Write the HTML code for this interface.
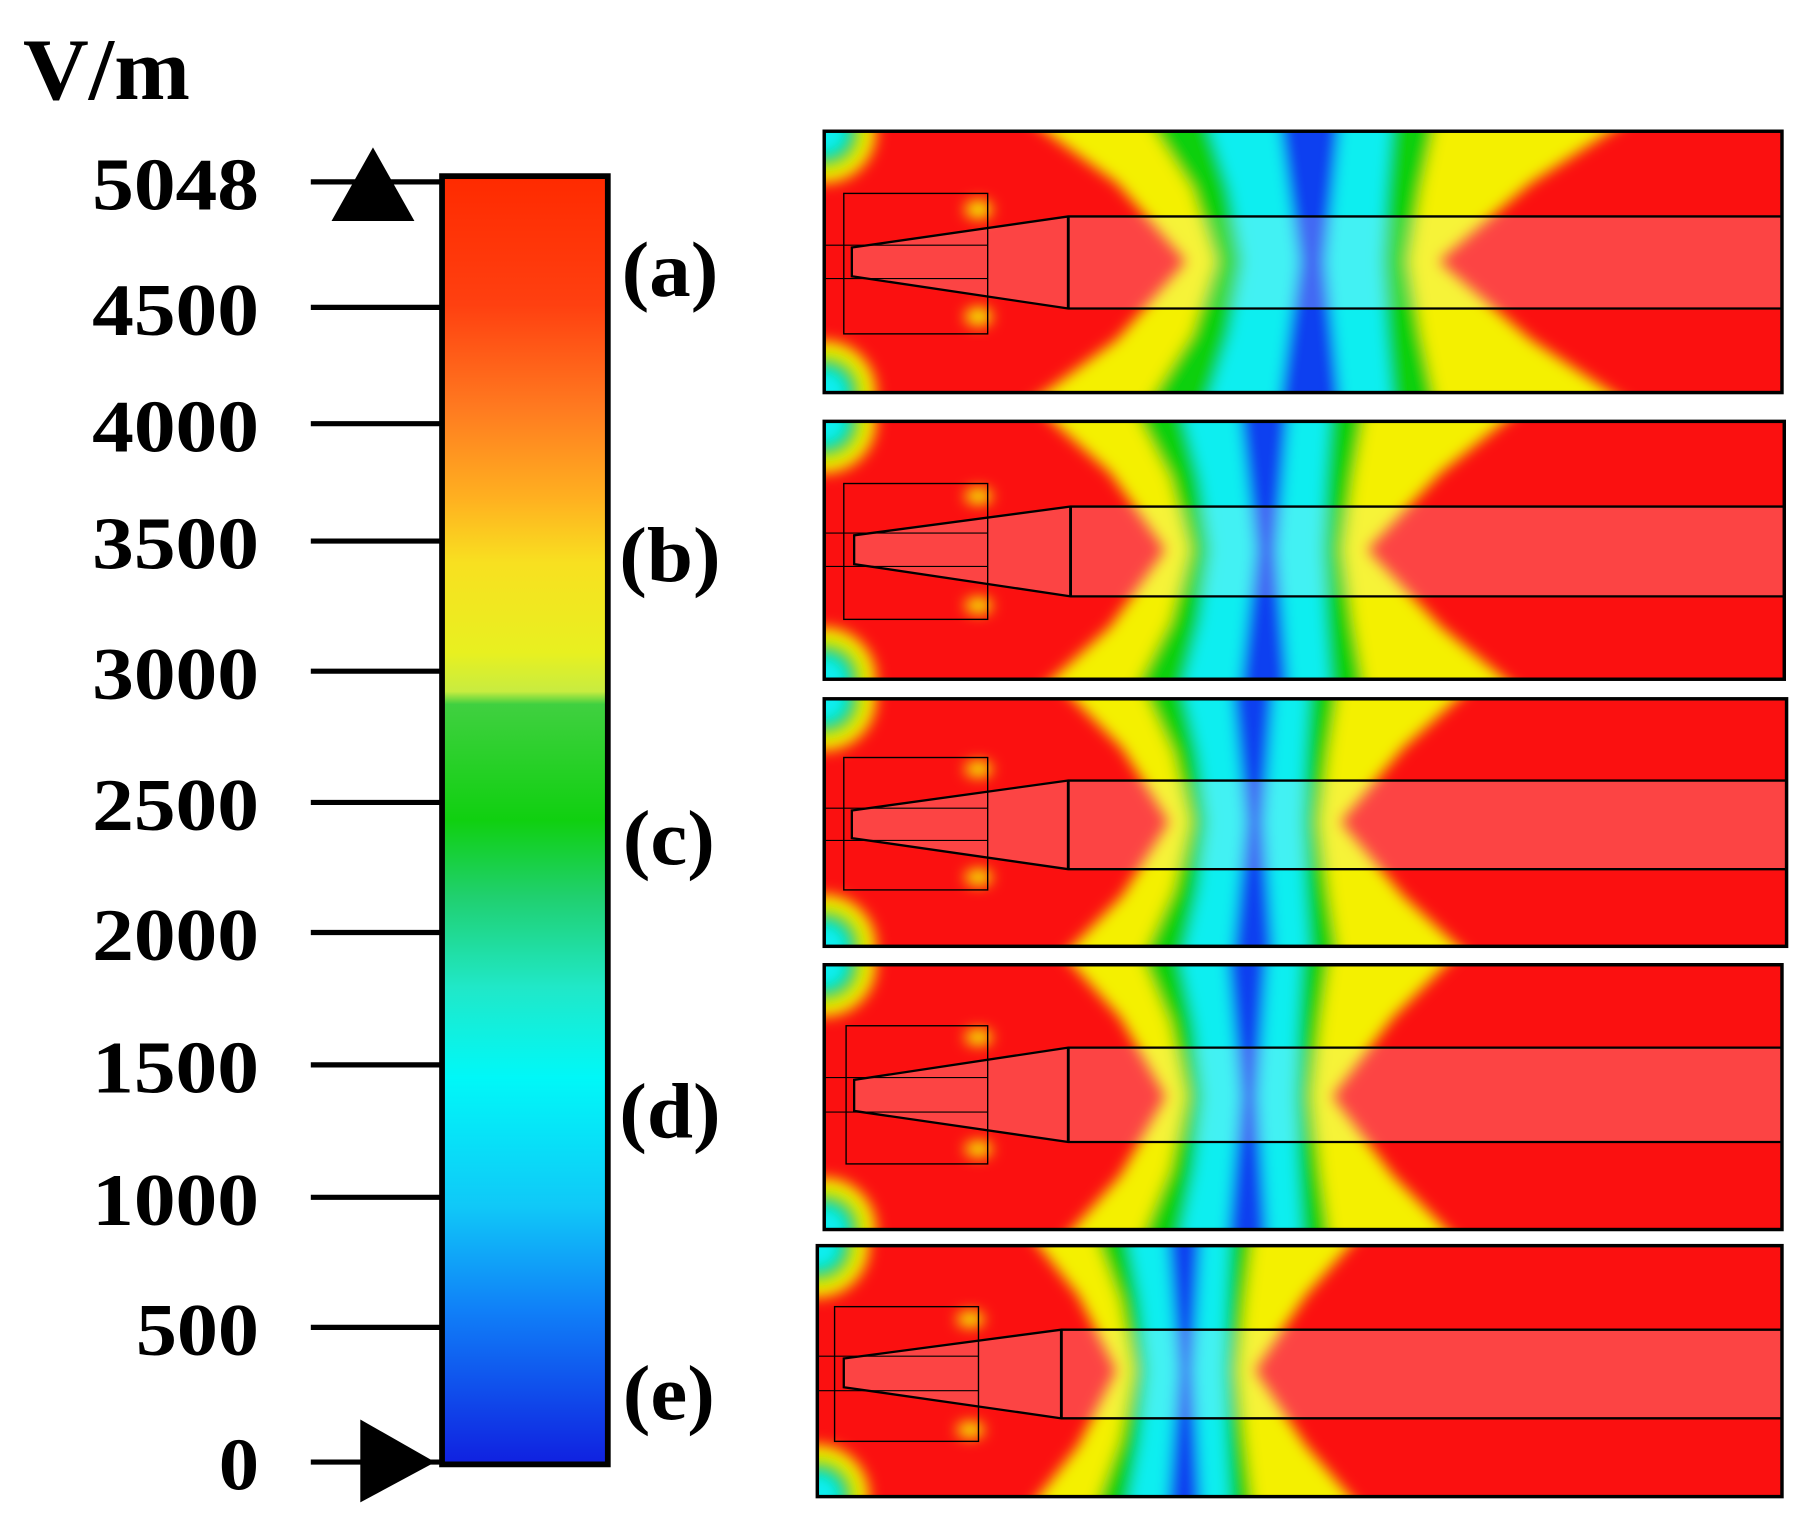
<!DOCTYPE html>
<html><head><meta charset="utf-8"><style>html,body{margin:0;padding:0;background:#fff}svg{display:block}</style></head>
<body>
<svg width="1805" height="1530" viewBox="0 0 1568 1329" xmlns="http://www.w3.org/2000/svg" preserveAspectRatio="none">
<defs>
<linearGradient id="cb" x1="0" y1="0" x2="0" y2="1">
<stop offset="0" stop-color="#ff2a00"/><stop offset="0.1" stop-color="#ff4010"/>
<stop offset="0.18" stop-color="#ff7a20"/><stop offset="0.25" stop-color="#ffb020"/>
<stop offset="0.3" stop-color="#f8e020"/><stop offset="0.37" stop-color="#e8f020"/>
<stop offset="0.4" stop-color="#c8ec40"/><stop offset="0.41" stop-color="#40d040"/>
<stop offset="0.5" stop-color="#10d010"/><stop offset="0.56" stop-color="#20d070"/>
<stop offset="0.63" stop-color="#20e8c8"/><stop offset="0.7" stop-color="#00f8f8"/>
<stop offset="0.8" stop-color="#10c8f8"/><stop offset="0.88" stop-color="#1080f8"/>
<stop offset="1" stop-color="#1020e0"/>
</linearGradient>
<filter id="bl" x="-20%" y="-20%" width="140%" height="140%"><feGaussianBlur stdDeviation="6"/></filter>
<g id="hg">
<polygon fill="#f4f000" points="-260,-20 -170,45 -110,113 -170,181 -260,247 290,247 190,181 110,113 190,45 290,-20"/>
<polygon fill="#10d010" points="-150,-20 -105,50 -85,113 -105,176 -150,247 110,247 95,176 85,113 95,50 110,-20"/>
<polygon fill="#10eef0" points="-95,-20 -72,50 -60,113 -72,176 -95,247 70,247 64,176 60,113 64,50 70,-20"/>
<polygon fill="#1040f0" points="-30,-20 -12,113 -30,247 25,247 12,113 25,-20"/>
</g>
<clipPath id="ca"><rect x="716" y="114" width="832" height="227"/></clipPath>
<clipPath id="cbp"><rect x="716" y="366" width="834" height="224"/></clipPath>
<clipPath id="cc"><rect x="716" y="607" width="836" height="215"/></clipPath>
<clipPath id="cd"><rect x="716" y="838" width="832" height="230"/></clipPath>
<clipPath id="ce"><rect x="710" y="1082" width="838" height="218"/></clipPath>
</defs>

<g font-family="Liberation Serif, serif" font-weight="bold" fill="#000">
<text x="20" y="86" font-size="76" textLength="145" lengthAdjust="spacingAndGlyphs">V/m</text>
<g font-size="64">
<text x="80" y="182" textLength="145" lengthAdjust="spacingAndGlyphs">5048</text>
<text x="80" y="291" textLength="145" lengthAdjust="spacingAndGlyphs">4500</text>
<text x="80" y="392" textLength="145" lengthAdjust="spacingAndGlyphs">4000</text>
<text x="80" y="494" textLength="145" lengthAdjust="spacingAndGlyphs">3500</text>
<text x="80" y="607" textLength="145" lengthAdjust="spacingAndGlyphs">3000</text>
<text x="80" y="721" textLength="145" lengthAdjust="spacingAndGlyphs">2500</text>
<text x="80" y="834" textLength="145" lengthAdjust="spacingAndGlyphs">2000</text>
<text x="80" y="949" textLength="145" lengthAdjust="spacingAndGlyphs">1500</text>
<text x="80" y="1064" textLength="145" lengthAdjust="spacingAndGlyphs">1000</text>
<text x="118" y="1177" textLength="107" lengthAdjust="spacingAndGlyphs">500</text>
<text x="190" y="1294" textLength="35" lengthAdjust="spacingAndGlyphs">0</text>
</g>
<g font-size="68">
<text x="540" y="257" textLength="84" lengthAdjust="spacingAndGlyphs">(a)</text>
<text x="538" y="505" textLength="88" lengthAdjust="spacingAndGlyphs">(b)</text>
<text x="541" y="751" textLength="80" lengthAdjust="spacingAndGlyphs">(c)</text>
<text x="538" y="988" textLength="88" lengthAdjust="spacingAndGlyphs">(d)</text>
<text x="541" y="1233" textLength="80" lengthAdjust="spacingAndGlyphs">(e)</text>
</g>
</g>
<g stroke="#000" stroke-width="4.5">
<line x1="270" y1="158" x2="383" y2="158"/><line x1="270" y1="267" x2="383" y2="267"/>
<line x1="270" y1="368" x2="383" y2="368"/><line x1="270" y1="470" x2="383" y2="470"/>
<line x1="270" y1="583" x2="383" y2="583"/><line x1="270" y1="697" x2="383" y2="697"/>
<line x1="270" y1="810" x2="383" y2="810"/><line x1="270" y1="925" x2="383" y2="925"/>
<line x1="270" y1="1040" x2="383" y2="1040"/><line x1="270" y1="1153" x2="383" y2="1153"/>
<line x1="270" y1="1270" x2="383" y2="1270"/>
</g>
<polygon points="324,128 288,192 360,192" fill="#000"/>
<polygon points="313,1233 378,1270 313,1305" fill="#000"/>
<rect x="384" y="153" width="144" height="1119" fill="url(#cb)" stroke="#000" stroke-width="5"/>

<g clip-path="url(#ca)">
<rect x="716" y="114" width="832" height="227" fill="#fb1010"/>
<g filter="url(#bl)">
<use href="#hg" transform="translate(1140,114)"/>
<circle cx="716" cy="114" r="45" fill="#f4f000"/><circle cx="716" cy="114" r="32" fill="#10d010"/><circle cx="716" cy="114" r="20" fill="#10eef0"/>
<circle cx="716" cy="341" r="45" fill="#f4f000"/><circle cx="716" cy="341" r="32" fill="#10d010"/><circle cx="716" cy="341" r="20" fill="#10eef0"/>
<ellipse cx="850" cy="182" rx="12" ry="8" fill="#f4f000"/><ellipse cx="850" cy="275" rx="12" ry="8" fill="#f4f000"/>
</g>
<polygon points="740,215 928,188 1548,188 1548,268 928,268 740,240" fill="#fff" fill-opacity="0.22" stroke="#000" stroke-width="2"/>
<line x1="928" y1="188" x2="928" y2="268" stroke="#000" stroke-width="2.5"/>
<rect x="733" y="168" width="125" height="122" fill="none" stroke="#000" stroke-width="1.2"/>
<line x1="716" y1="213" x2="858" y2="213" stroke="#000" stroke-width="1"/><line x1="716" y1="242" x2="858" y2="242" stroke="#000" stroke-width="1"/>
</g>
<rect x="716" y="114" width="832" height="227" fill="none" stroke="#000" stroke-width="3"/>

<g clip-path="url(#cbp)">
<rect x="716" y="366" width="834" height="224" fill="#fb1010"/>
<g filter="url(#bl)">
<use href="#hg" transform="translate(1100,366) scale(0.8,0.987)"/>
<circle cx="716" cy="366" r="45" fill="#f4f000"/><circle cx="716" cy="366" r="32" fill="#10d010"/><circle cx="716" cy="366" r="20" fill="#10eef0"/>
<circle cx="716" cy="590" r="45" fill="#f4f000"/><circle cx="716" cy="590" r="32" fill="#10d010"/><circle cx="716" cy="590" r="20" fill="#10eef0"/>
<ellipse cx="850" cy="431" rx="12" ry="7" fill="#f4f000"/><ellipse cx="850" cy="526" rx="12" ry="7" fill="#f4f000"/>
</g>
<polygon points="742,465 930,440 1550,440 1550,518 930,518 742,490" fill="#fff" fill-opacity="0.22" stroke="#000" stroke-width="2"/>
<line x1="930" y1="440" x2="930" y2="518" stroke="#000" stroke-width="2.5"/>
<rect x="733" y="420" width="125" height="118" fill="none" stroke="#000" stroke-width="1.2"/>
<line x1="716" y1="463" x2="858" y2="463" stroke="#000" stroke-width="1"/><line x1="716" y1="492" x2="858" y2="492" stroke="#000" stroke-width="1"/>
</g>
<rect x="716" y="366" width="834" height="224" fill="none" stroke="#000" stroke-width="3"/>

<g clip-path="url(#cc)">
<rect x="716" y="607" width="836" height="215" fill="#fb1010"/>
<g filter="url(#bl)">
<use href="#hg" transform="translate(1090,607) scale(0.68,0.947)"/>
<circle cx="716" cy="607" r="45" fill="#f4f000"/><circle cx="716" cy="607" r="32" fill="#10d010"/><circle cx="716" cy="607" r="20" fill="#10eef0"/>
<circle cx="716" cy="822" r="45" fill="#f4f000"/><circle cx="716" cy="822" r="32" fill="#10d010"/><circle cx="716" cy="822" r="20" fill="#10eef0"/>
<ellipse cx="850" cy="668" rx="12" ry="7" fill="#f4f000"/><ellipse cx="850" cy="762" rx="12" ry="7" fill="#f4f000"/>
</g>
<polygon points="740,704 928,678 1552,678 1552,755 928,755 740,728" fill="#fff" fill-opacity="0.22" stroke="#000" stroke-width="2"/>
<line x1="928" y1="678" x2="928" y2="755" stroke="#000" stroke-width="2.5"/>
<rect x="733" y="658" width="125" height="115" fill="none" stroke="#000" stroke-width="1.2"/>
<line x1="716" y1="702" x2="858" y2="702" stroke="#000" stroke-width="1"/><line x1="716" y1="730" x2="858" y2="730" stroke="#000" stroke-width="1"/>
</g>
<rect x="716" y="607" width="836" height="215" fill="none" stroke="#000" stroke-width="3"/>

<g clip-path="url(#cd)">
<rect x="716" y="838" width="832" height="230" fill="#fb1010"/>
<g filter="url(#bl)">
<use href="#hg" transform="translate(1085,838) scale(0.66,1.013)"/>
<circle cx="716" cy="838" r="45" fill="#f4f000"/><circle cx="716" cy="838" r="32" fill="#10d010"/><circle cx="716" cy="838" r="20" fill="#10eef0"/>
<circle cx="716" cy="1068" r="45" fill="#f4f000"/><circle cx="716" cy="1068" r="32" fill="#10d010"/><circle cx="716" cy="1068" r="20" fill="#10eef0"/>
<ellipse cx="850" cy="901" rx="12" ry="7" fill="#f4f000"/><ellipse cx="850" cy="998" rx="12" ry="7" fill="#f4f000"/>
</g>
<polygon points="742,938 928,910 1548,910 1548,992 928,992 742,965" fill="#fff" fill-opacity="0.22" stroke="#000" stroke-width="2"/>
<line x1="928" y1="910" x2="928" y2="992" stroke="#000" stroke-width="2.5"/>
<rect x="735" y="891" width="123" height="120" fill="none" stroke="#000" stroke-width="1.2"/>
<line x1="716" y1="936" x2="858" y2="936" stroke="#000" stroke-width="1"/><line x1="716" y1="966" x2="858" y2="966" stroke="#000" stroke-width="1"/>
</g>
<rect x="716" y="838" width="832" height="230" fill="none" stroke="#000" stroke-width="3"/>

<g clip-path="url(#ce)">
<rect x="710" y="1082" width="838" height="218" fill="#fb1010"/>
<g filter="url(#bl)">
<use href="#hg" transform="translate(1030,1082) scale(0.55,0.96)"/>
<circle cx="710" cy="1082" r="45" fill="#f4f000"/><circle cx="710" cy="1082" r="32" fill="#10d010"/><circle cx="710" cy="1082" r="20" fill="#10eef0"/>
<circle cx="710" cy="1300" r="45" fill="#f4f000"/><circle cx="710" cy="1300" r="32" fill="#10d010"/><circle cx="710" cy="1300" r="20" fill="#10eef0"/>
<ellipse cx="843" cy="1146" rx="12" ry="7" fill="#f4f000"/><ellipse cx="843" cy="1242" rx="12" ry="7" fill="#f4f000"/>
</g>
<polygon points="733,1180 922,1155 1548,1155 1548,1232 922,1232 733,1205" fill="#fff" fill-opacity="0.22" stroke="#000" stroke-width="2"/>
<line x1="922" y1="1155" x2="922" y2="1232" stroke="#000" stroke-width="2.5"/>
<rect x="725" y="1135" width="125" height="117" fill="none" stroke="#000" stroke-width="1.2"/>
<line x1="710" y1="1178" x2="850" y2="1178" stroke="#000" stroke-width="1"/><line x1="710" y1="1208" x2="850" y2="1208" stroke="#000" stroke-width="1"/>
</g>
<rect x="710" y="1082" width="838" height="218" fill="none" stroke="#000" stroke-width="3"/>
</svg>
</body></html>
